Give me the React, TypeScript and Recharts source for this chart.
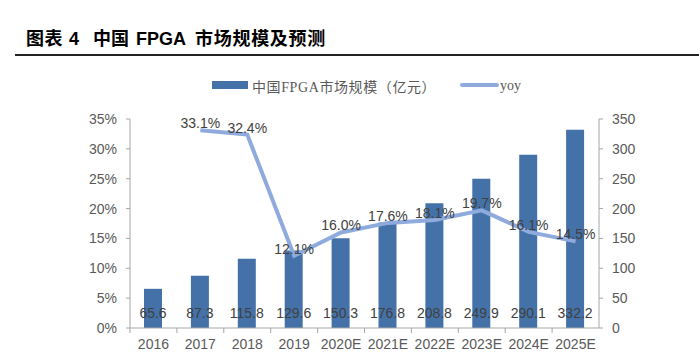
import React from "react";
import {
  ComposedChart,
  Bar,
  Line,
  XAxis,
  YAxis,
  Legend,
  LabelList,
} from "recharts";

const years = ["2016", "2017", "2018", "2019", "2020E", "2021E", "2022E", "2023E", "2024E", "2025E"];
const marketSize = [65.6, 87.3, 115.8, 129.6, 150.3, 176.8, 208.8, 249.9, 290.1, 332.2];
const yoy = [null, 33.1, 32.4, 12.1, 16.0, 17.6, 18.1, 19.7, 16.1, 14.5];
const pctTicks = [0, 5, 10, 15, 20, 25, 30, 35];
const sizeTicks = [0, 50, 100, 150, 200, 250, 300, 350];

const BAR = "#4472A8";
const LINE = "#8FAADC";
const AXIS = "#A6A6A6";
const TEXT = "#595959";
const LABEL = "#404040";
const SANS = "'Liberation Sans', Arial, 'Noto Sans CJK SC', sans-serif";
const SERIF = "'Liberation Serif', 'Noto Sans CJK SC', serif";

const data = years.map((year, i) => ({ year, size: marketSize[i], yoy: yoy[i] }));

const PLOT_W = 469;
const STEP = PLOT_W / years.length;

function CategoryTick(props: any) {
  const { x, y, payload } = props;
  return (
    <g>
      <line x1={x - STEP / 2} x2={x - STEP / 2} y1={y - 11} y2={y - 6} stroke={AXIS} />
      <text x={x} y={y} dy="0.71em" textAnchor="middle" fill={TEXT} fontSize={14} fontFamily={SANS}>
        {payload.value}
      </text>
    </g>
  );
}

function LegendContent() {
  return (
    <div style={{ position: "relative", height: 20, fontFamily: SERIF, fontSize: 14, color: TEXT }}>
      <div style={{ position: "absolute", left: 212, top: 6, width: 36, height: 8, background: BAR }} />
      <span style={{ position: "absolute", left: 252, top: 1, whiteSpace: "nowrap", letterSpacing: 0.6 }}>中国FPGA市场规模（亿元）</span>
      <div style={{ position: "absolute", left: 460, top: 8, width: 39, height: 4, borderRadius: 2, background: LINE }} />
      <span style={{ position: "absolute", left: 500, top: 3, whiteSpace: "nowrap" }}>yoy</span>
    </div>
  );
}

export default function App() {
  const titleFont = { fontFamily: SANS, fontWeight: 700, fontSize: 18 };
  return (
    <div style={{ position: "absolute", left: 0, top: 0, width: 699, height: 363, background: "#fff" }}>
      <div style={{ position: "absolute", left: 26, top: 30, lineHeight: "18px", whiteSpace: "nowrap", color: "#000", ...titleFont }}>
        <span style={{ letterSpacing: 0.5 }}>图表</span>
        <span style={{ marginLeft: 6 }}>4</span>
        <span style={{ marginLeft: 14 }}>中国</span>
        <span style={{ marginLeft: 7 }}>FPGA</span>
        <span style={{ marginLeft: 9, letterSpacing: 0.7 }}>市场规模及预测</span>
      </div>
      <div style={{ position: "absolute", left: 15, top: 54, width: 684, height: 2, background: "#222" }} />
      <div style={{ position: "absolute", left: 0, top: 0 }}>
        <ComposedChart
          width={699}
          height={363}
          data={data}
          margin={{ top: 119, right: 40, bottom: 5, left: 70 }}
        >
          <XAxis
            dataKey="year"
            height={30}
            tickLine={false}
            tickSize={5}
            tickMargin={6}
            axisLine={{ stroke: AXIS }}
            tick={<CategoryTick />}
            interval={0}
          />
          <YAxis
            yAxisId="left"
            width={60}
            domain={[0, 35]}
            ticks={pctTicks}
            tickFormatter={(v) => `${v}%`}
            tickSize={4}
            tickMargin={9}
            axisLine={{ stroke: AXIS }}
            tickLine={{ stroke: AXIS }}
            tick={{ fill: TEXT, fontSize: 14, fontFamily: SANS }}
          />
          <YAxis
            yAxisId="right"
            orientation="right"
            width={60}
            domain={[0, 350]}
            ticks={sizeTicks}
            tickSize={4}
            tickMargin={9}
            axisLine={{ stroke: AXIS }}
            tickLine={{ stroke: AXIS }}
            tick={{ fill: TEXT, fontSize: 14, fontFamily: SANS, textAnchor: "start" }}
          />
          <Legend
            verticalAlign="middle"
            align="center"
            wrapperStyle={{ left: 0, top: 75, width: 699 }}
            content={<LegendContent />}
          />
          <Bar yAxisId="right" dataKey="size" name="中国FPGA市场规模（亿元）" fill={BAR} barSize={18} isAnimationActive={false}>
            <LabelList
              dataKey="size"
              position="insideBottom"
              offset={10}
              fill={LABEL}
              fontSize={14}
              fontFamily={SANS}
              formatter={(v: any) => Number(v).toFixed(1)}
            />
          </Bar>
          <Line
            yAxisId="left"
            type="linear"
            dataKey="yoy"
            name="yoy"
            stroke={LINE}
            strokeWidth={4}
            dot={false}
            activeDot={false}
            isAnimationActive={false}
          >
            <LabelList
              dataKey="yoy"
              position="top"
              offset={2}
              fill={LABEL}
              fontSize={14}
              fontFamily={SANS}
              formatter={(v: any) => (v == null ? "" : `${Number(v).toFixed(1)}%`)}
            />
          </Line>
        </ComposedChart>
      </div>
    </div>
  );
}
